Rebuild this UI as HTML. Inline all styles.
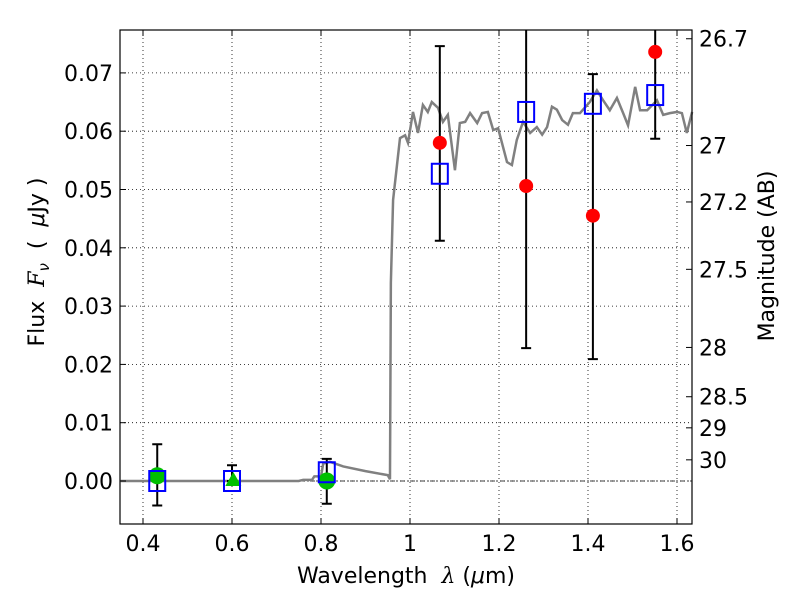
<!DOCTYPE html>
<html><head><meta charset="utf-8"><style>
body{margin:0;background:#fff}
svg text{font-family:"DejaVu Sans","Liberation Sans",sans-serif;fill:#000}
</style></head><body>
<svg id="chart" width="800" height="600" xmlns="http://www.w3.org/2000/svg">
<rect width="800" height="600" fill="#fff"/>
<g id="grid"></g>
<g id="plot"></g>
<g id="axes"></g>
<text x="406" y="583" font-size="22" text-anchor="middle" xml:space="preserve">Wavelength  <tspan font-style="italic" font-family="DejaVu Serif,serif">λ</tspan> (<tspan font-style="italic">μ</tspan>m)</text>
<text transform="translate(44,262) rotate(-90)" font-size="22" text-anchor="middle" xml:space="preserve">Flux  <tspan font-style="italic" font-family="DejaVu Serif,serif">F</tspan><tspan font-style="italic" font-size="15" dy="5">ν</tspan><tspan dy="-5">  (  </tspan><tspan font-style="italic">μ</tspan>Jy )</text>
<text transform="translate(774,256) rotate(-90)" font-size="22" text-anchor="middle">Magnitude (AB)</text>
</svg>
<script>
const xTicks=[0.4,0.6,0.8,1.0,1.2,1.4,1.6];
const xTickLabels=["0.4","0.6","0.8","1","1.2","1.4","1.6"];
const yTicks=[0,0.01,0.02,0.03,0.04,0.05,0.06,0.07];
const yTickLabels=["0.00","0.01","0.02","0.03","0.04","0.05","0.06","0.07"];
const magTicks=[26.7,27,27.2,27.5,28,28.5,29,30];
const specLam=[0.35,0.75,0.76,0.78,0.785,0.80,0.805,0.82,0.85,0.90,0.95,0.955,0.957,0.962,0.9775,0.989,0.9955,1.0067,1.018,1.029,1.040,1.049,1.063,1.074,1.085,1.101,1.112,1.124,1.135,1.151,1.162,1.175,1.187,1.198,1.218,1.229,1.240,1.254,1.270,1.285,1.297,1.308,1.319,1.330,1.342,1.355,1.366,1.382,1.404,1.420,1.434,1.449,1.465,1.479,1.490,1.506,1.517,1.533,1.555,1.569,1.584,1.600,1.611,1.622,1.634];
const specFlux=[0,0,0.0002,0.0002,0.0008,0.0008,0.003,0.0033,0.0025,0.0017,0.001,0.0003,0.034,0.0482,0.0588,0.0593,0.0580,0.0633,0.0597,0.0645,0.0633,0.0650,0.0640,0.0616,0.0628,0.0533,0.0614,0.0616,0.0631,0.0614,0.0631,0.0633,0.0602,0.0605,0.0547,0.0542,0.0585,0.0616,0.0597,0.0607,0.0594,0.0607,0.0642,0.0637,0.0619,0.0611,0.0631,0.0631,0.0650,0.0670,0.0653,0.0636,0.0657,0.0631,0.0610,0.0676,0.0636,0.0636,0.0653,0.0628,0.0631,0.0633,0.0631,0.0597,0.0633];
const modelLam=[0.432,0.60,0.813,1.067,1.261,1.411,1.551];
const modelFlux=[0,0,0.0015,0.0527,0.0633,0.0647,0.0662];
const errLam=[0.432,0.60,0.813,1.067,1.261,1.411,1.551];
const errLo=[-0.0042,0.0,-0.0039,0.0412,0.0228,0.0209,0.0587];
const errHi=[0.0063,0.0027,0.0038,0.0746,0.09,0.0698,0.09];
const redLam=[1.067,1.261,1.411,1.551];
const redFlux=[0.058,0.0506,0.0455,0.0736];
const greenCircLam=[0.432,0.813];
const greenCircFlux=[0.0009,0.0];
const greenTriLam=[0.603];
const greenTriFlux=[0.0];

const L=120,R=692,T=30,B=524;
const x=v=>143+(v-0.4)*445;
const y=v=>481-v*5830;
const NS="http://www.w3.org/2000/svg";
function mk(parent,tag,attrs){const e=document.createElementNS(NS,tag);for(const k in attrs)e.setAttribute(k,attrs[k]);document.getElementById(parent).appendChild(e);return e;}
xTicks.forEach(v=>{const e=mk('grid','line',{x1:x(v),x2:x(v),y1:T,y2:B,stroke:'#000','stroke-width':0.8,'stroke-dasharray':'1,3'});

});
yTicks.forEach(v=>{const e=mk('grid','line',{x1:L,x2:R,y1:y(v),y2:y(v),stroke:'#000','stroke-width':0.8,'stroke-dasharray':'1,3'});

});
{const e=mk('plot','line',{x1:L,x2:R,y1:y(0),y2:y(0),stroke:'#000','stroke-width':0.8,'stroke-dasharray':'5,2,1,2'});

}
{const e=mk('plot','polyline',{points:specLam.map((l,i)=>x(l)+','+y(specFlux[i])).join(' '),fill:'none',stroke:'#808080','stroke-width':2.5});

}
errLam.forEach((l,i)=>{const yt=Math.max(y(errHi[i]),T),yb=y(errLo[i]);
const e=mk('plot','path',{d:`M${x(l)},${yt}V${yb}M${x(l)-5},${yb}H${x(l)+5}`+(y(errHi[i])>T?`M${x(l)-5},${yt}H${x(l)+5}`:''),stroke:'#000','stroke-width':2,fill:'none'});

});
greenCircLam.forEach((l,i)=>{const e=mk('plot','circle',{cx:x(l),cy:y(greenCircFlux[i]),r:8.5,fill:'#00c000'});

});
greenTriLam.forEach((l,i)=>{const cx=x(l),cy=y(greenTriFlux[i]);const e=mk('plot','polygon',{points:`${cx},${cy-9} ${cx-8},${cy+5} ${cx+8},${cy+5}`,fill:'#00c000'});

});
redLam.forEach((l,i)=>{const e=mk('plot','circle',{cx:x(l),cy:y(redFlux[i]),r:7,fill:'#ff0000'});

});
modelLam.forEach((l,i)=>{const e=mk('plot','rect',{x:x(l)-8,y:y(modelFlux[i])-10,width:16,height:20,fill:'none',stroke:'#0000ff','stroke-width':2});

});
{const e=mk('axes','rect',{x:L,y:T,width:R-L,height:B-T,fill:'none',stroke:'#000','stroke-width':1.2});

}
xTicks.forEach((v,i)=>{mk('axes','path',{d:`M${x(v)},${B}v-6M${x(v)},${T}v6`,stroke:'#000'});
const t=mk('axes','text',{x:x(v),y:B+27,'font-size':22,'text-anchor':'middle'});t.textContent=xTickLabels[i];

});
yTicks.forEach((v,i)=>{mk('axes','path',{d:`M${L},${y(v)}h6`,stroke:'#000'});
const t=mk('axes','text',{x:L-7,y:y(v)+8,'font-size':22,'text-anchor':'end'});t.textContent=yTickLabels[i];

});
magTicks.forEach(m=>{const f=Math.pow(10,(23.9-m)/2.5);const yy=y(f);
mk('axes','path',{d:`M${R},${yy}h-6`,stroke:'#000'});
const t=mk('axes','text',{x:R+7,y:yy+8,'font-size':22});t.textContent=String(m);

});
</script>
</body></html>
